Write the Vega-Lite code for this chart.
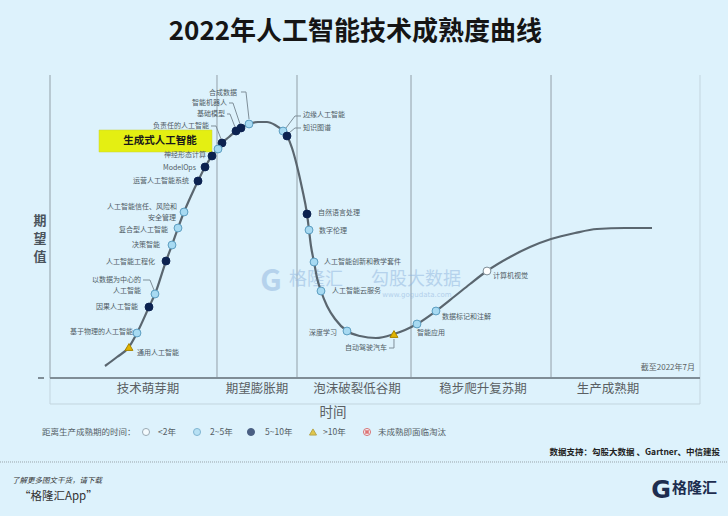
{
  "$schema": "https://vega.github.io/schema/vega-lite/v6.json",
  "width": 650,
  "height": 303,
  "autosize": {"type": "none"},
  "padding": {"left": 50, "right": 28, "top": 75, "bottom": 138},
  "background": "#ddf2fc",
  "config": {"view": {"stroke": null}, "text": {"font": "Noto Sans CJK SC", "baseline": "middle"}},
  "encoding": {
    "x": {"field": "t", "type": "quantitative", "scale": {"domain": [0, 100], "nice": false, "zero": false}, "axis": null},
    "y": {"field": "e", "type": "quantitative", "scale": {"domain": [0, 100], "nice": false, "zero": false}, "axis": null}
  },
  "datasets": {
    "dividers": [
      {"t": 0, "t2": 0, "e": 0, "e2": 100},
      {"t": 25.69, "t2": 25.69, "e": 0, "e2": 100},
      {"t": 38.0, "t2": 38.0, "e": 0, "e2": 100},
      {"t": 55.54, "t2": 55.54, "e": 0, "e2": 100},
      {"t": 77.08, "t2": 77.08, "e": 0, "e2": 100}
    ],
    "border": [
      {"t": 100, "t2": 100, "e": 0, "e2": 100}
    ],
    "band": [
      {"t": 0, "t2": 100, "e": 0, "e2": -8.58}
    ],
    "axisline": [
      {"t": 0, "t2": 100, "e": 0, "e2": 0},
      {"t": -1.85, "t2": -0.92, "e": 0, "e2": 0}
    ],
    "sep": [
      {"t": -7.69, "t2": 104.31, "e": -27.72, "e2": -27.72}
    ],
    "curve": [
      {"t": 8.46, "e": 3.96}, {"t": 10.31, "e": 6.93}, {"t": 12.15, "e": 10.23}, {"t": 13.38, "e": 14.85},
      {"t": 15.23, "e": 23.43}, {"t": 16.15, "e": 27.72}, {"t": 17.85, "e": 38.61}, {"t": 18.77, "e": 43.89},
      {"t": 19.69, "e": 49.5}, {"t": 20.62, "e": 54.79}, {"t": 21.69, "e": 60.07}, {"t": 22.77, "e": 65.02},
      {"t": 23.85, "e": 69.64}, {"t": 24.92, "e": 73.27}, {"t": 25.85, "e": 75.58}, {"t": 26.46, "e": 77.56},
      {"t": 27.54, "e": 79.54}, {"t": 28.62, "e": 81.52}, {"t": 29.38, "e": 82.51}, {"t": 30.62, "e": 83.83},
      {"t": 32.0, "e": 84.49}, {"t": 33.38, "e": 84.49}, {"t": 34.62, "e": 83.5}, {"t": 35.85, "e": 81.52},
      {"t": 36.46, "e": 79.87}, {"t": 37.23, "e": 75.91}, {"t": 38.0, "e": 69.97}, {"t": 38.77, "e": 62.71},
      {"t": 39.54, "e": 54.13}, {"t": 39.85, "e": 48.84}, {"t": 40.15, "e": 43.56}, {"t": 40.62, "e": 38.28},
      {"t": 41.08, "e": 33.0}, {"t": 41.69, "e": 28.71}, {"t": 42.62, "e": 23.76}, {"t": 43.85, "e": 19.47},
      {"t": 45.69, "e": 15.51}, {"t": 47.69, "e": 13.86}, {"t": 50.15, "e": 13.2}, {"t": 52.92, "e": 14.52},
      {"t": 54.62, "e": 15.84}, {"t": 56.46, "e": 17.82}, {"t": 59.38, "e": 22.11}, {"t": 62.31, "e": 27.06},
      {"t": 64.62, "e": 31.02}, {"t": 67.23, "e": 35.31}, {"t": 70.77, "e": 39.93}, {"t": 73.85, "e": 43.23},
      {"t": 77.08, "e": 45.87}, {"t": 80.77, "e": 47.85}, {"t": 84.15, "e": 49.17}, {"t": 88.46, "e": 49.5},
      {"t": 92.62, "e": 49.5}
    ],
    "leaders": [
      {"id": "合成数据", "o": 1, "t": 29.38, "e": 94.39}, {"id": "合成数据", "o": 2, "t": 30.15, "e": 94.39}, {"id": "合成数据", "o": 3, "t": 30.62, "e": 85.48},
      {"id": "智能机器人", "o": 1, "t": 27.54, "e": 90.76}, {"id": "智能机器人", "o": 2, "t": 28.15, "e": 90.76}, {"id": "智能机器人", "o": 3, "t": 29.23, "e": 83.83},
      {"id": "基础模型", "o": 1, "t": 27.23, "e": 87.13}, {"id": "基础模型", "o": 2, "t": 27.69, "e": 87.13}, {"id": "基础模型", "o": 3, "t": 28.46, "e": 82.84},
      {"id": "负责任的人工智能", "o": 1, "t": 24.77, "e": 83.17}, {"id": "负责任的人工智能", "o": 2, "t": 25.54, "e": 83.17}, {"id": "负责任的人工智能", "o": 3, "t": 26.31, "e": 78.88},
      {"id": "边缘人工智能", "o": 1, "t": 38.62, "e": 86.47}, {"id": "边缘人工智能", "o": 2, "t": 37.69, "e": 86.47}, {"id": "边缘人工智能", "o": 3, "t": 36.31, "e": 82.51},
      {"id": "知识图谱", "o": 1, "t": 38.62, "e": 82.51}, {"id": "知识图谱", "o": 2, "t": 37.69, "e": 82.51}, {"id": "知识图谱", "o": 3, "t": 36.77, "e": 80.86},
      {"id": "以数据为中心的人工智能", "o": 1, "t": 14.31, "e": 32.34}, {"id": "以数据为中心的人工智能", "o": 2, "t": 15.38, "e": 32.34}, {"id": "以数据为中心的人工智能", "o": 3, "t": 16.0, "e": 29.04},
      {"id": "自动驾驶汽车", "o": 1, "t": 52.15, "e": 9.9}, {"id": "自动驾驶汽车", "o": 2, "t": 52.92, "e": 9.9}, {"id": "自动驾驶汽车", "o": 3, "t": 52.92, "e": 12.87}
    ],
    "techs": [
      {"name": "合成数据", "t": 30.62, "e": 83.83, "cat": "2~5年"},
      {"name": "智能机器人", "t": 29.38, "e": 82.51, "cat": "5~10年"},
      {"name": "基础模型", "t": 28.62, "e": 81.52, "cat": "5~10年"},
      {"name": "负责任的人工智能", "t": 26.46, "e": 77.56, "cat": "5~10年"},
      {"name": "生成式人工智能", "t": 25.85, "e": 75.58, "cat": "2~5年"},
      {"name": "神经形态计算", "t": 24.92, "e": 73.27, "cat": "5~10年"},
      {"name": "ModelOps", "t": 23.85, "e": 69.64, "cat": "5~10年"},
      {"name": "运营人工智能系统", "t": 22.77, "e": 65.02, "cat": "5~10年"},
      {"name": "人工智能信任、风险和安全管理", "t": 20.62, "e": 54.79, "cat": "2~5年"},
      {"name": "复合型人工智能", "t": 19.69, "e": 49.5, "cat": "2~5年"},
      {"name": "决策智能", "t": 18.77, "e": 43.89, "cat": "2~5年"},
      {"name": "人工智能工程化", "t": 17.85, "e": 38.61, "cat": "5~10年"},
      {"name": "以数据为中心的人工智能", "t": 16.15, "e": 27.72, "cat": "2~5年"},
      {"name": "因果人工智能", "t": 15.23, "e": 23.43, "cat": "5~10年"},
      {"name": "基于物理的人工智能", "t": 13.38, "e": 14.85, "cat": "2~5年"},
      {"name": "通用人工智能", "t": 12.15, "e": 10.23, "cat": ">10年"},
      {"name": "边缘人工智能", "t": 35.85, "e": 81.52, "cat": "2~5年"},
      {"name": "知识图谱", "t": 36.46, "e": 79.87, "cat": "5~10年"},
      {"name": "自然语言处理", "t": 39.54, "e": 54.13, "cat": "5~10年"},
      {"name": "数字伦理", "t": 39.85, "e": 48.84, "cat": "2~5年"},
      {"name": "人工智能创新和教学套件", "t": 40.62, "e": 38.28, "cat": "2~5年"},
      {"name": "人工智能云服务", "t": 41.69, "e": 28.71, "cat": "2~5年"},
      {"name": "深度学习", "t": 45.69, "e": 15.51, "cat": "2~5年"},
      {"name": "自动驾驶汽车", "t": 52.92, "e": 14.52, "cat": ">10年"},
      {"name": "智能应用", "t": 56.46, "e": 17.82, "cat": "2~5年"},
      {"name": "数据标记和注解", "t": 59.38, "e": 22.11, "cat": "2~5年"},
      {"name": "计算机视觉", "t": 67.23, "e": 35.31, "cat": "<2年"}
    ],
    "labRight": [
      {"label": "合成数据", "t": 28.77, "e": 94.06},
      {"label": "智能机器人", "t": 27.23, "e": 90.76},
      {"label": "基础模型", "t": 26.92, "e": 87.13},
      {"label": "负责任的人工智能", "t": 24.46, "e": 83.17},
      {"label": "神经形态计算", "t": 24.0, "e": 73.6},
      {"label": "ModelOps", "t": 22.46, "e": 69.31},
      {"label": "运营人工智能系统", "t": 21.38, "e": 65.02},
      {"label": "人工智能信任、风险和", "t": 19.54, "e": 56.44},
      {"label": "安全管理", "t": 19.38, "e": 52.81},
      {"label": "复合型人工智能", "t": 18.15, "e": 48.84},
      {"label": "决策智能", "t": 16.92, "e": 43.89},
      {"label": "人工智能工程化", "t": 16.15, "e": 38.28},
      {"label": "以数据为中心的", "t": 14.0, "e": 32.34},
      {"label": "人工智能", "t": 14.0, "e": 28.71},
      {"label": "因果人工智能", "t": 13.54, "e": 23.43},
      {"label": "基于物理的人工智能", "t": 12.77, "e": 15.18},
      {"label": "深度学习", "t": 44.15, "e": 14.85},
      {"label": "自动驾驶汽车", "t": 51.85, "e": 9.9}
    ],
    "labLeft": [
      {"label": "通用人工智能", "t": 13.38, "e": 8.25},
      {"label": "边缘人工智能", "t": 38.92, "e": 86.8},
      {"label": "知识图谱", "t": 38.92, "e": 82.51},
      {"label": "自然语言处理", "t": 41.23, "e": 54.46},
      {"label": "数字伦理", "t": 41.38, "e": 48.51},
      {"label": "人工智能创新和教学套件", "t": 42.15, "e": 38.28},
      {"label": "人工智能云服务", "t": 43.38, "e": 28.71},
      {"label": "智能应用", "t": 56.46, "e": 14.85},
      {"label": "数据标记和注解", "t": 60.31, "e": 20.13},
      {"label": "计算机视觉", "t": 68.15, "e": 33.66}
    ],
    "genBox": [
      {"t": 7.54, "t2": 24.92, "e": 81.85, "e2": 74.59, "label": "生成式人工智能", "tc": 16.92, "ec": 78.22}
    ],
    "phases": [
      {"label": "技术萌芽期", "t": 15.08, "e": -3.63},
      {"label": "期望膨胀期", "t": 31.85, "e": -3.63},
      {"label": "泡沫破裂低谷期", "t": 47.23, "e": -3.63},
      {"label": "稳步爬升复苏期", "t": 66.62, "e": -3.63},
      {"label": "生产成熟期", "t": 85.85, "e": -3.63}
    ],
    "xtitle": [{"label": "时间", "t": 43.54, "e": -11.55}],
    "ytitle": [
      {"label": "期", "t": -1.54, "e": 51.82},
      {"label": "望", "t": -1.54, "e": 45.87},
      {"label": "值", "t": -1.54, "e": 39.93}
    ],
    "asof": [{"label": "截至2022年7月", "t": 99.23, "e": 3.3}],
    "title": [{"label": "2022年人工智能技术成熟度曲线", "t": 46.99, "e": 114.19}],
    "legendPts": [
      {"t": 14.77, "e": -17.82, "cat": "<2年"},
      {"t": 22.62, "e": -17.82, "cat": "2~5年"},
      {"t": 30.92, "e": -17.82, "cat": "5~10年"},
      {"t": 40.46, "e": -17.82, "cat": ">10年"},
      {"t": 48.77, "e": -17.82, "cat": "未成熟即面临淘汰"}
    ],
    "legendRed": [{"t": 48.77, "e": -17.82}],
    "legendTxt": [
      {"label": "距离生产成熟期的时间：", "t": -1.23, "e": -17.82},
      {"label": "<2年", "t": 16.62, "e": -17.82},
      {"label": "2~5年", "t": 24.62, "e": -17.82},
      {"label": "5~10年", "t": 33.08, "e": -17.82},
      {"label": ">10年", "t": 42.0, "e": -17.82},
      {"label": "未成熟即面临淘汰", "t": 50.46, "e": -17.82}
    ],
    "source": [{"label": "数据支持：勾股大数据 、Gartner、中信建投", "t": 103.08, "e": -24.42}],
    "foot1": [{"label": "了解更多图文干货，请下载", "t": -5.85, "e": -33.99}],
    "foot2": [{"label": "“格隆汇App”", "t": -4.77, "e": -39.27}],
    "logoG": [{"label": "G", "t": 94.0, "e": -37.29}],
    "logoTxt": [{"label": "格隆汇", "t": 95.69, "e": -36.3}],
    "wmBig": [
      {"label": "格隆汇", "t": 40.92, "e": 32.34},
      {"label": "勾股大数据", "t": 56.31, "e": 32.34}
    ],
    "wmG": [{"label": "G", "t": 34.0, "e": 31.68}],
    "wmSmall": [
      {"label": "www.gogudata.com", "t": 56.46, "e": 27.39}
    ]
  },
  "layer": [
    {"data": {"name": "band"}, "mark": {"type": "rect", "fill": null, "fillOpacity": 0, "stroke": "#c3d5df", "strokeWidth": 1}, "encoding": {"x2": {"field": "t2"}, "y2": {"field": "e2"}}},
    {"data": {"name": "dividers"}, "mark": {"type": "rule", "color": "#9fadb6", "strokeWidth": 1.2}, "encoding": {"x2": {"field": "t2"}, "y2": {"field": "e2"}}},
    {"data": {"name": "border"}, "mark": {"type": "rule", "color": "#c3d5df", "strokeWidth": 1}, "encoding": {"x2": {"field": "t2"}, "y2": {"field": "e2"}}},
    {"data": {"name": "axisline"}, "mark": {"type": "rule", "color": "#7f8d96", "strokeWidth": 2}, "encoding": {"x2": {"field": "t2"}, "y2": {"field": "e2"}}},
    {"data": {"name": "sep"}, "mark": {"type": "rule", "color": "#9aa4aa", "strokeWidth": 1, "strokeDash": [1, 1]}, "encoding": {"x2": {"field": "t2"}, "y2": {"field": "e2"}}},
    {"data": {"name": "wmG"}, "mark": {"type": "text", "fontSize": 30, "fontWeight": "bold", "color": "#8fb4dd", "opacity": 0.5, "align": "center"}, "encoding": {"text": {"field": "label"}}},
    {"data": {"name": "wmBig"}, "mark": {"type": "text", "fontSize": 18, "color": "#8fb4dd", "opacity": 0.5, "align": "center"}, "encoding": {"text": {"field": "label"}}},
    {"data": {"name": "wmSmall"}, "mark": {"type": "text", "fontSize": 7, "color": "#8fb4dd", "opacity": 0.55, "align": "center", "font": "DejaVu Sans"}, "encoding": {"text": {"field": "label"}}},
    {"data": {"name": "curve"}, "mark": {"type": "line", "color": "#5a666f", "strokeWidth": 2.2, "interpolate": "monotone"}, "encoding": {}},
    {"data": {"name": "leaders"}, "mark": {"type": "line", "color": "#7f8f99", "strokeWidth": 1}, "encoding": {"detail": {"field": "id"}, "order": {"field": "o"}}},
    {"data": {"name": "genBox"}, "mark": {"type": "rect", "fill": "#e4ef12", "stroke": "#c9d23a", "strokeWidth": 0.5}, "encoding": {"x2": {"field": "t2"}, "y2": {"field": "e2"}}},
    {"data": {"name": "genBox"}, "mark": {"type": "text", "fontSize": 10.5, "fontWeight": "bold", "color": "#1a1a1a", "align": "center"}, "encoding": {"x": {"field": "tc", "type": "quantitative"}, "y": {"field": "ec", "type": "quantitative"}, "text": {"field": "label"}}},
    {"data": {"name": "techs"}, "mark": {"type": "point", "filled": true, "size": 62, "strokeWidth": 1, "opacity": 1}, "encoding": {
      "fill": {"field": "cat", "type": "nominal", "scale": {"domain": ["<2年", "2~5年", "5~10年", ">10年", "未成熟即面临淘汰"], "range": ["#ffffff", "#a7daf2", "#0c2250", "#e2b400", "#ffffff"]}, "legend": null},
      "stroke": {"field": "cat", "type": "nominal", "scale": {"domain": ["<2年", "2~5年", "5~10年", ">10年", "未成熟即面临淘汰"], "range": ["#7d8d97", "#5b9dc0", "#0c2250", "#a88600", "#d33a3a"]}, "legend": null},
      "shape": {"field": "cat", "type": "nominal", "scale": {"domain": ["<2年", "2~5年", "5~10年", ">10年", "未成熟即面临淘汰"], "range": ["circle", "circle", "circle", "triangle-up", "circle"]}, "legend": null},
      "tooltip": {"field": "name"}
    }},
    {"data": {"name": "labRight"}, "mark": {"type": "text", "fontSize": 7, "color": "#4f5b64", "align": "right"}, "encoding": {"text": {"field": "label"}}},
    {"data": {"name": "labLeft"}, "mark": {"type": "text", "fontSize": 7, "color": "#4f5b64", "align": "left"}, "encoding": {"text": {"field": "label"}}},
    {"data": {"name": "phases"}, "mark": {"type": "text", "fontSize": 12.5, "color": "#5a5f63", "align": "center"}, "encoding": {"text": {"field": "label"}}},
    {"data": {"name": "xtitle"}, "mark": {"type": "text", "fontSize": 13.5, "color": "#5a5f63", "align": "center"}, "encoding": {"text": {"field": "label"}}},
    {"data": {"name": "ytitle"}, "mark": {"type": "text", "fontSize": 13, "fontWeight": "bold", "color": "#4a545c", "align": "center"}, "encoding": {"text": {"field": "label"}}},
    {"data": {"name": "asof"}, "mark": {"type": "text", "fontSize": 8, "color": "#5a5f63", "align": "right"}, "encoding": {"text": {"field": "label"}}},
    {"data": {"name": "title"}, "mark": {"type": "text", "fontSize": 26, "fontWeight": "bold", "color": "#151515", "align": "center"}, "encoding": {"text": {"field": "label"}}},
    {"data": {"name": "legendPts"}, "mark": {"type": "point", "filled": true, "size": 50, "strokeWidth": 1}, "encoding": {
      "fill": {"field": "cat", "type": "nominal", "legend": null},
      "stroke": {"field": "cat", "type": "nominal", "legend": null},
      "shape": {"field": "cat", "type": "nominal", "legend": null}
    }},
    {"data": {"name": "legendRed"}, "mark": {"type": "point", "shape": "cross", "angle": 45, "size": 22, "filled": true, "color": "#d33a3a"}, "encoding": {}},
    {"data": {"name": "legendTxt"}, "mark": {"type": "text", "fontSize": 8.5, "color": "#555f66", "align": "left"}, "encoding": {"text": {"field": "label"}}},
    {"data": {"name": "source"}, "mark": {"type": "text", "fontSize": 8.5, "fontWeight": "bold", "color": "#222222", "align": "right"}, "encoding": {"text": {"field": "label"}}},
    {"data": {"name": "foot1"}, "mark": {"type": "text", "fontSize": 7.5, "fontStyle": "italic", "color": "#333333", "align": "left"}, "encoding": {"text": {"field": "label"}}},
    {"data": {"name": "foot2"}, "mark": {"type": "text", "fontSize": 11.5, "color": "#333333", "align": "left"}, "encoding": {"text": {"field": "label"}}},
    {"data": {"name": "logoG"}, "mark": {"type": "text", "fontSize": 24, "fontWeight": "bold", "color": "#1d2d4f", "align": "center", "font": "DejaVu Sans"}, "encoding": {"text": {"field": "label"}}},
    {"data": {"name": "logoTxt"}, "mark": {"type": "text", "fontSize": 15, "fontWeight": "bold", "color": "#1d2d4f", "align": "left"}, "encoding": {"text": {"field": "label"}}}
  ]
}
